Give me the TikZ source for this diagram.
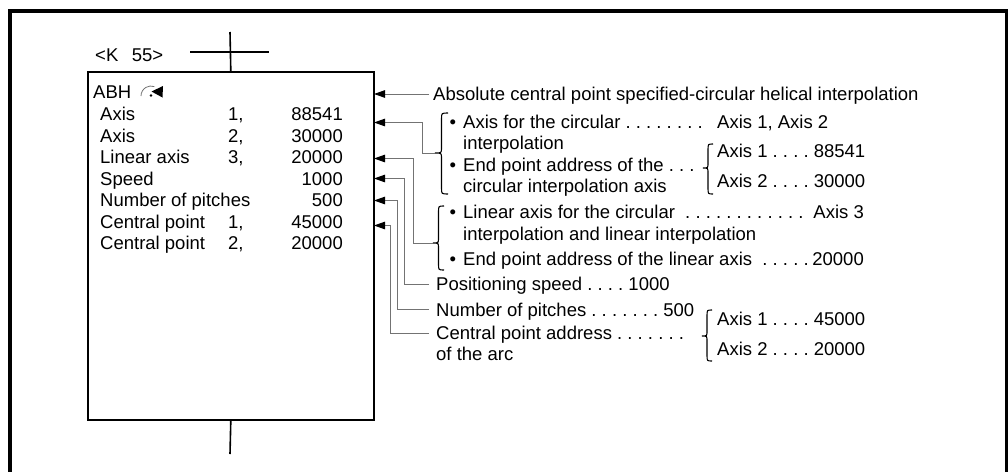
\documentclass[tikz,border=0pt]{standalone}
\usepackage{fontspec}
\setmainfont{Liberation Sans}
\usetikzlibrary{arrows.meta}
\definecolor{linegray}{gray}{0.45}
\begin{document}
\begin{tikzpicture}[x=1pt,y=-1pt,
  txt/.style={inner sep=0pt, anchor=base west, font=\fontsize{18.5}{22}\selectfont\frenchspacing},
  txtr/.style={txt, anchor=base east},
  conn/.style={draw=linegray, line width=1pt, -{Triangle[length=11pt,width=7.5pt,color=black]}},
  bracestyle/.style={line width=1.1pt, black},
  heavy/.style={line width=3.5pt, black},
  mid/.style={line width=1.6pt, black}]
\useasboundingbox (0,0) rectangle (1008,471);
\clip (0,0) rectangle (1008,471);
% outer frame
\draw[heavy] (10,480) -- (10,11) -- (1007,11) -- (1007,480);
% program box
\node[draw, mid, minimum width=286pt, minimum height=348pt, anchor=north west, inner sep=0pt] (box) at (87,71) {};
\coordinate (topend) at (230,32);
\coordinate (botend) at (230,454);
\coordinate (hl) at (190,52);
\coordinate (hr) at (269,52);
\draw[mid] (topend) -- (box.north);
\draw[mid] (hl) -- (hr);
\draw[mid] (box.south) -- (botend);
\node[txt] (k55) at (95,61.5) {<K\hspace{13.5pt}55>};
% box contents
\node[txt] (abh) at (93,98.5) {ABH};
\draw[linegray, line width=0.8pt] (141,96) arc[start angle=180, end angle=290, radius=10];
\fill (151,95.5) circle[radius=1.4];
\fill (163,86) -- (162.5,97.5) -- (151.5,91.5) -- cycle;
\node[txt] (n1) at (100,120.6) {Axis};
\node[txt] (n2) at (100,142.1) {Axis};
\node[txt] (n3) at (100,163.6) {Linear axis};
\node[txt] (n4) at (100,185.1) {Speed};
\node[txt] (n5) at (100,206.6) {Number of pitches};
\node[txt] (n6) at (100,228.1) {Central point};
\node[txt] (n7) at (100,249.6) {Central point};
\node[txt] (i1) at (228,120.6) {1,};
\node[txt] (i2) at (228,142.1) {2,};
\node[txt] (i3) at (228,163.6) {3,};
\node[txt] (i6) at (228,228.1) {1,};
\node[txt] (i7) at (228,249.6) {2,};
\node[txtr] (v1) at (343,120.6) {88541};
\node[txtr] (v2) at (343,142.1) {30000};
\node[txtr] (v3) at (343,163.6) {20000};
\node[txtr] (v4) at (343,185.1) {1000};
\node[txtr] (v5) at (343,206.6) {500};
\node[txtr] (v6) at (343,228.1) {45000};
\node[txtr] (v7) at (343,249.6) {20000};
% right-hand explanations
\node[txt] (t0) at (433,100) {Absolute central point specified-circular helical interpolation};
\node[txt] (b1) at (449.5,128.3) {•};
\node[txt] (t1) at (463,128.3) {Axis for the circular . . . . . . . .};
\node[txt] (t1v) at (717,128.3) {Axis 1, Axis 2};
\node[txt] (t1b) at (463,149.5) {interpolation};
\node[txt] (b2) at (449.5,171.7) {•};
\node[txt] (t2) at (463,171.7) {End point address of the . . .};
\node[txt] (t2b) at (463,192.5) {circular interpolation axis};
\node[txt] (t2v1) at (717,157.3) {Axis 1 . . . . 88541};
\node[txt] (t2v2) at (717,187.3) {Axis 2 . . . . 30000};
\node[txt] (b3) at (449.5,218.5) {•};
\node[txt] (t3) at (463,218.5) {Linear axis for the circular\ \ . . . . . . . . . . . .};
\node[txtr] (t3v) at (864,218.5) {Axis 3};
\node[txt] (t3b) at (463,240.5) {interpolation and linear interpolation};
\node[txt] (b4) at (449.5,265.7) {•};
\node[txt] (t4) at (463,265.7) {End point address of the linear axis\ \ . . . . .};
\node[txtr] (t4v) at (864,265.7) {20000};
\node[txt] (t5) at (436,290.7) {Positioning speed . . . . 1000};
\node[txt] (t6) at (436,316) {Number of pitches . . . . . . . 500};
\node[txt] (t7) at (436,339) {Central point address . . . . . . .};
\node[txt] (t7b) at (436,360) {of the arc};
\node[txt] (t7v1) at (717,325.7) {Axis 1 . . . . 45000};
\node[txt] (t7v2) at (717,355.7) {Axis 2 . . . . 20000};
% braces
\draw[bracestyle] (448,113) .. controls (441.5,113) .. (441.5,119) -- (441.5,148) .. controls (441.5,153) .. (435,153) .. controls (441.5,153) .. (441.5,158) -- (441.5,188) .. controls (441.5,194) .. (448,194);
\draw[bracestyle] (444,206) .. controls (438.5,206) .. (438.5,212) -- (438.5,238) .. controls (438.5,243) .. (433,243) .. controls (438.5,243) .. (438.5,248) -- (438.5,264) .. controls (438.5,270) .. (444,270);
\draw[bracestyle] (713,144) .. controls (708,144) .. (708,150) -- (708,163) .. controls (708,168) .. (703,168) .. controls (708,168) .. (708,173) -- (708,188) .. controls (708,194) .. (713,194);
\draw[bracestyle] (712,310) .. controls (707,310) .. (707,316) -- (707,331) .. controls (707,336) .. (702,336) .. controls (707,336) .. (707,341) -- (707,355) .. controls (707,361) .. (712,361);
% connector coordinates
\coordinate (s0) at (429,94);
\coordinate (e0) at (374,94);
\coordinate (s1) at (435,153);
\coordinate (k1) at (422,153);
\coordinate (k1u) at (422,122.5);
\coordinate (e1) at (374,122.5);
\coordinate (s2) at (433,243);
\coordinate (k2) at (413,243);
\coordinate (k2u) at (413,158.5);
\coordinate (e2) at (374,158.5);
\coordinate (s3) at (429,284);
\coordinate (k3) at (404,284);
\coordinate (k3u) at (404,178.5);
\coordinate (e3) at (374,178.5);
\coordinate (s4) at (429,309);
\coordinate (k4) at (397,309);
\coordinate (k4u) at (397,200.5);
\coordinate (e4) at (374,200.5);
\coordinate (s5) at (429,333);
\coordinate (k5) at (390,333);
\coordinate (k5u) at (390,225.5);
\coordinate (e5) at (374,225.5);
\draw[conn] (s0) -- (e0);
\draw[conn] (s1) -- (k1) -- (k1u) -- (e1);
\draw[conn] (s2) -- (k2) -- (k2u) -- (e2);
\draw[conn] (s3) -- (k3) -- (k3u) -- (e3);
\draw[conn] (s4) -- (k4) -- (k4u) -- (e4);
\draw[conn] (s5) -- (k5) -- (k5u) -- (e5);
\end{tikzpicture}
\end{document}
